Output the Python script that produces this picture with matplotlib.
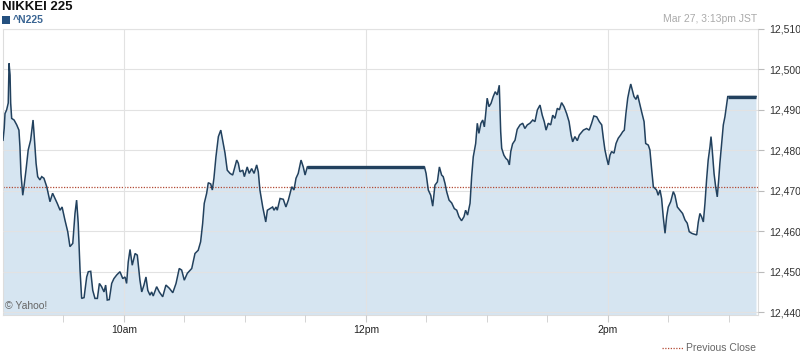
import matplotlib
matplotlib.use("Agg")
import matplotlib.pyplot as plt
from matplotlib.patches import Rectangle
from matplotlib.lines import Line2D

plt.rcParams['font.family'] = ['Liberation Sans', 'DejaVu Sans']

# ---- data: minutes after 9:00 JST, index level ----
minutes = [0.0, 0.6, 1.0, 1.8, 2.6, 3.0, 3.5, 3.8, 4.3, 5.5, 6.8, 7.9, 8.4, 8.9, 9.8, 10.4, 11.4, 12.5,
           13.7, 14.9, 15.5, 16.4, 17.2, 18.3, 19.2, 20.3, 21.7, 23.3, 24.6, 25.8, 26.9, 28.3, 29.3, 30.7,
           32.1, 33.2, 34.6, 35.7, 36.5, 37.3, 38.2, 39.0, 40.2, 41.5, 42.3, 43.5, 44.5, 45.6, 46.8, 47.8,
           48.9, 50.1, 50.9, 51.7, 52.7, 53.9, 55.0, 56.4, 58.0, 59.4, 60.5, 61.3, 62.1, 63.0, 64.1, 65.5,
           66.6, 67.9, 68.8, 69.9, 70.9, 71.8, 72.9, 73.7, 74.5, 76.2, 77.5, 79.2, 80.8, 82.5, 84.2, 85.8,
           87.4, 88.6, 89.9, 91.4, 93.6, 95.2, 96.8, 98.0, 99.0, 99.8, 101.0, 101.8, 103.0, 103.8, 104.6,
           105.6, 106.8, 108.0, 108.9, 110.1, 111.2, 112.6, 113.9, 115.0, 115.9, 116.7, 117.5, 118.9, 119.7,
           121.1, 122.1, 123.3, 124.5, 125.8, 126.6, 127.4, 128.8, 130.3, 131.1, 132.4, 133.7, 134.4, 135.4,
           136.0, 137.4, 139.0, 140.3, 141.5, 143.2, 144.3, 145.3, 146.4, 147.8, 148.9, 149.8, 150.9,
           209.0, 209.8, 210.9, 212.1, 213.1, 214.2, 215.4, 216.4, 217.5, 218.3, 219.2, 220.0, 221.2, 222.5,
           223.8, 225.0, 226.1, 227.4, 228.6, 229.4, 230.4, 231.6, 232.4, 233.2, 234.4, 235.2, 236.0, 237.0,
           237.9, 238.7, 239.3, 240.1, 241.0, 242.0, 243.1, 244.1, 245.1, 246.1, 246.8, 247.3, 248.4, 249.4,
           250.3, 251.1, 251.8, 252.7, 253.9, 255.0, 256.4, 257.7, 258.8, 260.0, 261.3, 262.7, 263.8, 265.0,
           266.3, 267.4, 268.4, 269.3, 270.4, 271.6, 272.6, 273.7, 274.9, 275.9, 277.0, 278.2, 279.5, 280.7,
           281.7, 282.5, 283.6, 284.8, 285.8, 287.8, 289.4, 290.7, 291.9, 293.0, 294.4, 295.7, 296.9, 297.7,
           298.5, 299.4, 300.2, 301.0, 301.8, 303.0, 304.0, 305.1, 306.3, 307.3, 308.1, 308.9, 309.8, 310.6,
           311.3, 312.1, 312.9, 313.9, 314.7, 315.5, 316.7, 317.9, 318.7, 320.0, 320.8, 321.7, 322.5, 323.3,
           324.1, 324.9, 325.8, 326.6, 327.4, 328.3, 329.1, 329.9, 331.1, 332.4, 333.2, 334.4, 335.7, 337.0,
           338.2, 339.3, 340.3, 341.5, 342.6, 344.0, 344.8, 345.6, 346.4, 347.3, 348.1, 348.9, 349.7, 350.6,
           351.1, 351.7, 352.6, 353.4, 354.2, 354.9, 355.5, 356.4, 357.2, 358.0, 358.9, 359.4, 373.4]

prices = [12482.5, 12485.4, 12489.1, 12490.0, 12491.7, 12501.5, 12498.6, 12491.7, 12487.9, 12487.5, 12486.3,
          12485.0, 12480.9, 12474.3, 12468.9, 12471.0, 12475.1, 12480.1, 12482.5, 12487.5, 12483.4, 12476.8,
          12473.5, 12472.7, 12473.5, 12473.1, 12471.0, 12467.3, 12469.4, 12468.1, 12466.9, 12465.2, 12466.0,
          12462.8, 12459.9, 12456.2, 12457.0, 12464.4, 12467.7, 12462.0, 12450.4, 12443.4, 12443.6, 12448.7,
          12450.0, 12450.1, 12445.4, 12443.4, 12443.4, 12447.1, 12446.3, 12445.0, 12446.7, 12443.0, 12443.1,
          12447.1, 12448.3, 12449.2, 12450.0, 12448.3, 12448.7, 12447.1, 12452.4, 12455.5, 12451.6, 12454.5,
          12454.1, 12447.9, 12445.0, 12446.7, 12448.7, 12445.4, 12444.2, 12445.0, 12444.0, 12446.3, 12445.0,
          12443.8, 12446.7, 12445.9, 12444.8, 12447.1, 12450.8, 12450.4, 12447.9, 12449.6, 12450.8, 12454.5,
          12455.3, 12457.4, 12461.9, 12466.9, 12469.4, 12472.0, 12471.7, 12470.2, 12473.1, 12478.4, 12483.4,
          12485.0, 12482.5, 12479.3, 12475.1, 12474.3, 12473.9, 12475.9, 12477.6, 12476.8, 12474.7, 12475.1,
          12473.5, 12475.9, 12474.3, 12475.5, 12474.3, 12476.4, 12474.7, 12470.2, 12466.0, 12462.3, 12465.2,
          12465.6, 12466.0, 12465.2, 12466.0, 12465.2, 12468.1, 12467.9, 12466.0, 12467.7, 12471.0, 12470.2,
          12473.1, 12474.3, 12477.6, 12475.9, 12473.9, 12475.9,
          12475.9, 12474.3, 12470.2, 12468.9, 12466.2, 12471.4, 12472.2, 12475.9, 12473.9, 12473.5, 12471.8,
          12469.8, 12467.7, 12467.0, 12465.6, 12465.2, 12463.6, 12462.6, 12463.6, 12465.2, 12464.0, 12466.9,
          12473.5, 12478.4, 12481.7, 12486.7, 12484.2, 12486.7, 12487.5, 12485.8, 12488.7, 12492.9, 12490.8,
          12491.6, 12493.3, 12494.5, 12493.7, 12496.1, 12484.6, 12480.5, 12478.8, 12478.0, 12477.6, 12476.4,
          12479.7, 12481.6, 12482.5, 12485.2, 12486.3, 12486.7, 12485.4, 12486.3, 12486.7, 12487.5, 12487.1,
          12490.0, 12491.2, 12488.7, 12487.1, 12485.0, 12486.7, 12486.3, 12488.7, 12487.9, 12490.4, 12490.0,
          12491.8, 12490.8, 12489.1, 12487.1, 12483.8, 12482.1, 12483.4, 12482.4, 12483.8, 12485.0, 12485.4,
          12485.0, 12486.7, 12488.5, 12488.3, 12487.1, 12486.3, 12483.0, 12480.1, 12478.0, 12476.4, 12478.8,
          12479.7, 12479.3, 12481.7, 12483.0, 12483.8, 12484.6, 12485.0, 12489.1, 12492.9, 12494.9, 12496.4,
          12494.9, 12493.3, 12492.6, 12493.7, 12492.0, 12489.5, 12487.1, 12481.7, 12481.3, 12480.1, 12475.1,
          12471.0, 12470.6, 12470.2, 12468.9, 12470.2, 12468.1, 12463.6, 12459.5, 12463.6, 12466.0, 12467.3,
          12469.8, 12468.9, 12466.0, 12465.2, 12464.4, 12462.8, 12462.0, 12459.9, 12459.5, 12459.3, 12459.1,
          12462.3, 12464.4, 12463.6, 12462.3, 12466.9, 12472.7, 12477.6, 12480.9, 12483.4, 12480.1, 12474.3,
          12471.0, 12468.5, 12472.7, 12476.8, 12481.7, 12486.3, 12488.3, 12491.6, 12493.3, 12493.3]

previous_close = 12471.0
y_ticks = [12440, 12450, 12460, 12470, 12480, 12490, 12500, 12510]
x_major = [60, 180, 300]
x_labels = ['10am', '12pm', '2pm']
x_minor = [30, 90, 120, 150, 210, 240, 270, 330, 360]
title = 'NIKKEI 225'
symbol = '^N225'
timestamp = 'Mar 27, 3:13pm JST'

W, H = 800, 356
fig = plt.figure(figsize=(W / 100, H / 100), dpi=100)
left, right, top, bottom = 3, 758, 29, 315
ax = fig.add_axes([left / W, 1 - bottom / H, (right - left) / W, (bottom - top) / H])

line_c = '#22415e'
fill_c = '#d6e5f1'
grid_c = '#e2e2e2'

ax.set_xlim(0, 374.4)
ax.set_ylim(12439.3, 12510)
ax.fill_between(minutes, prices, 12439.3, color=fill_c, lw=0, zorder=1)
ax.plot(minutes, prices, color=line_c, lw=1.1, zorder=3, solid_joinstyle='miter')
# flat stretches (lunch break / after close) drawn heavier, as in the original
for i in range(len(minutes) - 1):
    if prices[i] == prices[i + 1] and minutes[i + 1] - minutes[i] > 5:
        ax.plot(minutes[i:i + 2], prices[i:i + 2], color=line_c, lw=2.4, zorder=3,
                solid_capstyle='butt')

ax.axhline(previous_close, color='#b34a35', lw=0.9, ls=(0, (1, 1.2)), zorder=2)

ax.set_yticks(y_ticks)
ax.set_yticklabels([f'{v:,}' for v in y_ticks])
ax.yaxis.tick_right()
ax.set_xticks(x_major)
ax.set_xticklabels(x_labels)
ax.set_xticks(x_minor, minor=True)
ax.grid(True, which='major', color=grid_c, lw=0.8, zorder=1.5)
ax.set_axisbelow(False)
for gl in ax.get_xgridlines() + ax.get_ygridlines():
    gl.set_zorder(1.5)
ax.tick_params(axis='y', which='major', length=4, color='#bbbbbb', labelsize=7.5,
               labelcolor='#333333', pad=4)
ax.tick_params(axis='x', which='both', length=5, color='#cccccc', labelsize=7.5,
               labelcolor='#222222', pad=2)
for s in ax.spines.values():
    s.set_color('#dddddd')
    s.set_linewidth(0.8)

# header texts
fig.text(2 / W, 1 - 7 / H, title, fontsize=9.5, fontweight='bold', color='#111111',
         ha='left', va='center')
fig.patches.append(Rectangle((2 / W, 1 - 24 / H), 8 / W, 8 / H, transform=fig.transFigure,
                             facecolor='#24507f', edgecolor='none'))
fig.text(13 / W, 1 - 20 / H, symbol, fontsize=7.5, fontweight='bold', color='#3a6593',
         ha='left', va='center')
fig.text(757 / W, 1 - 19 / H, timestamp, fontsize=7.5, color='#aaaaaa', ha='right', va='center')

# watermark
ax.text(5 / W, 1 - 306 / H, '\u00a9 Yahoo!', transform=fig.transFigure, fontsize=7.5,
        color='#666666', ha='left', va='center', zorder=5)

# legend for previous close
fig.lines.append(Line2D([662 / W, 683 / W], [1 - 348 / H, 1 - 348 / H], transform=fig.transFigure,
                        color='#b34a35', lw=0.9, ls=(0, (1, 1.2))))
fig.text(686 / W, 1 - 348 / H, 'Previous Close', fontsize=7.5, color='#666666',
         ha='left', va='center')

fig.savefig('out.png', dpi=100)
